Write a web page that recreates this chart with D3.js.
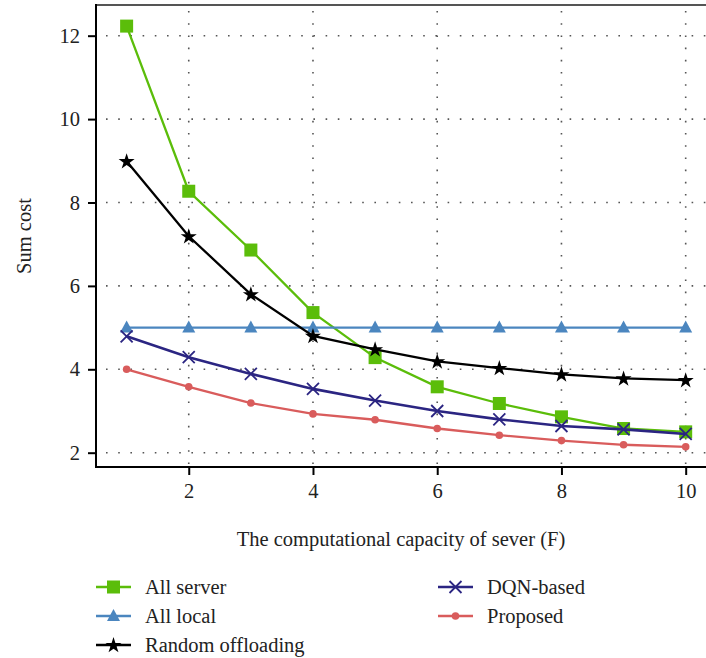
<!DOCTYPE html>
<html>
<head>
<meta charset="utf-8">
<script src="https://cdn.jsdelivr.net/npm/d3@7"></script>
<style>
  html, body { margin: 0; padding: 0; background: #fff; }
  svg { display: block; }
  text { font-family: "Liberation Serif", "Times New Roman", serif; fill: #222; }
</style>
</head>
<body>
<svg id="chart" width="706" height="658"></svg>
<script>
// ---- data ----
const capacities = [1, 2, 3, 4, 5, 6, 7, 8, 9, 10];
const allServer  = [12.23, 8.27, 6.86, 5.36, 4.28, 3.58, 3.18, 2.86, 2.58, 2.50];
const allLocal   = [5.0, 5.0, 5.0, 5.0, 5.0, 5.0, 5.0, 5.0, 5.0, 5.0];
const randomOff  = [8.99, 7.19, 5.80, 4.80, 4.48, 4.19, 4.03, 3.88, 3.78, 3.74];
const dqnBased   = [4.79, 4.29, 3.89, 3.53, 3.25, 3.00, 2.80, 2.64, 2.56, 2.45];
const proposed   = [4.00, 3.58, 3.19, 2.93, 2.79, 2.58, 2.42, 2.29, 2.19, 2.14];
const xTicks = [2, 4, 6, 8, 10];
const yTicks = [2, 4, 6, 8, 10, 12];
const seriesNames = ["All server", "All local", "Random offloading", "DQN-based", "Proposed"];

(function () {
const series = [
  { name: seriesNames[0], values: allServer, color: "#5bbd0a", marker: "square" },
  { name: seriesNames[1], values: allLocal,  color: "#4b86bf", marker: "triangle" },
  { name: seriesNames[2], values: randomOff, color: "#000000", marker: "star" },
  { name: seriesNames[3], values: dqnBased,  color: "#2b2582", marker: "x" },
  { name: seriesNames[4], values: proposed,  color: "#d95c5c", marker: "circle" }
];

const FS = "20.5px";
const svg = d3.select("#chart");
const pL = 96, pR = 706, pT = 5, pB = 467;

const x = d3.scaleLinear().domain([0.507, 10.327]).range([pL, pR]);
const y = d3.scaleLinear().domain([1.657, 12.736]).range([pB, pT]);

// grid
const grid = svg.append("g");
grid.selectAll("line.h").data(yTicks).enter().append("line")
  .attr("x1", pL).attr("x2", pR)
  .attr("y1", d => y(d)).attr("y2", d => y(d))
  .attr("stroke", "#555").attr("stroke-width", 1.6)
  .attr("stroke-dasharray", "1.6,10.6").attr("stroke-dashoffset", -10);
grid.selectAll("line.v").data(xTicks).enter().append("line")
  .attr("x1", d => x(d)).attr("x2", d => x(d))
  .attr("y1", pT).attr("y2", pB)
  .attr("stroke", "#555").attr("stroke-width", 1.6)
  .attr("stroke-dasharray", "1.6,10.6").attr("stroke-dashoffset", -6);

// top border
svg.append("line").attr("x1", pL).attr("x2", pR).attr("y1", pT).attr("y2", pT)
  .attr("stroke", "#555").attr("stroke-width", 2);

// axes
const xAxis = d3.axisBottom(x).tickValues(xTicks).tickSize(8).tickPadding(8).tickFormat(d3.format("d"));
const yAxis = d3.axisLeft(y).tickValues(yTicks).tickSize(8).tickPadding(8).tickFormat(d3.format("d"));

const gx = svg.append("g").attr("transform", `translate(0,${pB})`).call(xAxis);
const gy = svg.append("g").attr("transform", `translate(${pL},0)`).call(yAxis);
[gx, gy].forEach(g => {
  g.select(".domain").remove();
  g.selectAll(".tick line").attr("stroke", "#000").attr("stroke-width", 2);
  g.selectAll(".tick text").style("font-size", FS).attr("fill", "#222")
    .style("font-family", '"Liberation Serif", serif');
});
svg.append("line").attr("x1", pL).attr("x2", pR).attr("y1", pB).attr("y2", pB)
  .attr("stroke", "#000").attr("stroke-width", 2);
svg.append("line").attr("x1", pL).attr("x2", pL).attr("y1", pT - 1).attr("y2", pB + 1)
  .attr("stroke", "#000").attr("stroke-width", 2);

// axis titles
svg.append("text").attr("x", 401).attr("y", 546).attr("text-anchor", "middle")
  .style("font-size", FS).text("The computational capacity of sever (F)");
svg.append("text").attr("transform", `translate(31,236) rotate(-90)`).attr("text-anchor", "middle")
  .style("font-size", FS).text("Sum cost");

// markers
function drawMarker(g, type, cx, cy, color) {
  if (type === "square") {
    g.append("rect").attr("x", cx - 6.5).attr("y", cy - 6.5).attr("width", 13).attr("height", 13)
      .attr("fill", color);
  } else if (type === "triangle") {
    g.append("path").attr("d", `M${cx},${cy - 7}L${cx + 6.5},${cy + 5}L${cx - 6.5},${cy + 5}Z`)
      .attr("fill", color);
  } else if (type === "star") {
    g.append("path").attr("d", d3.symbol().type(d3.symbolStar).size(80)())
      .attr("transform", `translate(${cx},${cy + 0.5})`).attr("fill", color);
  } else if (type === "x") {
    const s = 6;
    g.append("path").attr("d", `M${cx - s},${cy - s}L${cx + s},${cy + s}M${cx - s},${cy + s}L${cx + s},${cy - s}`)
      .attr("stroke", color).attr("stroke-width", 1.8).attr("fill", "none");
  } else if (type === "circle") {
    g.append("circle").attr("cx", cx).attr("cy", cy).attr("r", 3.8).attr("fill", color);
  }
}

const line = d3.line().x((d, i) => x(capacities[i])).y(d => y(d));
series.forEach(s => {
  const g = svg.append("g");
  g.append("path").datum(s.values).attr("d", line)
    .attr("fill", "none").attr("stroke", s.color).attr("stroke-width", s.marker === "x" ? 2.6 : 2.3);
  s.values.forEach((v, i) => drawMarker(g, s.marker, x(capacities[i]), y(v), s.color));
});

// legend
const legendPos = [
  { lx: 96, ty: 587 }, { lx: 96, ty: 616 }, { lx: 96, ty: 645 },
  { lx: 438, ty: 587 }, { lx: 438, ty: 616 }
];
series.forEach((s, i) => {
  const p = legendPos[i];
  const g = svg.append("g");
  g.append("line").attr("x1", p.lx).attr("x2", p.lx + 35).attr("y1", p.ty).attr("y2", p.ty)
    .attr("stroke", s.color).attr("stroke-width", 2.3);
  drawMarker(g, s.marker, p.lx + 17.5, p.ty, s.color);
  g.append("text").attr("x", p.lx + 49).attr("y", p.ty + 6.5)
    .style("font-size", FS).text(s.name);
});
})();
</script>
</body>
</html>
